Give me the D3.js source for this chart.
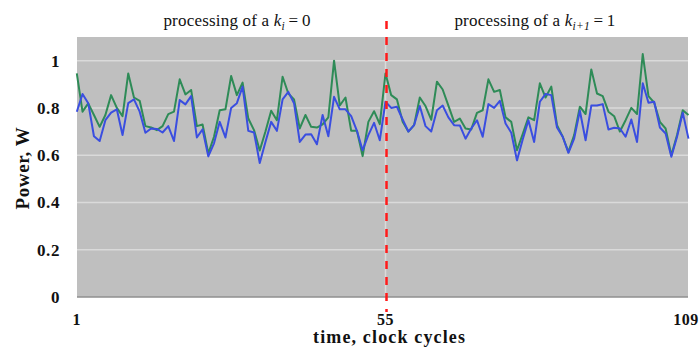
<!DOCTYPE html>
<html><head><meta charset="utf-8">
<script src="https://cdn.jsdelivr.net/npm/d3@7"></script>
<style>body{margin:0;background:#fff}</style>
</head><body><svg id="c" width="700" height="347"></svg>
<script>
const green = [0.946,0.784,0.819,0.77,0.72,0.77,0.854,0.80,0.765,0.946,0.844,0.83,0.723,0.717,0.706,0.723,0.774,0.784,0.921,0.857,0.876,0.723,0.73,0.607,0.678,0.79,0.794,0.935,0.854,0.907,0.755,0.706,0.62,0.70,0.788,0.748,0.932,0.861,0.836,0.713,0.77,0.72,0.717,0.73,0.76,1.0,0.81,0.844,0.703,0.703,0.596,0.741,0.786,0.731,0.946,0.854,0.836,0.741,0.70,0.727,0.844,0.808,0.75,0.911,0.878,0.81,0.741,0.755,0.713,0.709,0.779,0.79,0.921,0.868,0.876,0.76,0.741,0.621,0.689,0.76,0.748,0.904,0.844,0.89,0.727,0.678,0.614,0.685,0.805,0.774,0.963,0.861,0.85,0.784,0.765,0.70,0.748,0.80,0.774,1.028,0.85,0.822,0.741,0.713,0.60,0.685,0.79,0.77];
const blue = [0.784,0.859,0.82,0.68,0.66,0.748,0.78,0.794,0.685,0.82,0.836,0.784,0.695,0.713,0.711,0.696,0.723,0.66,0.833,0.815,0.85,0.675,0.709,0.595,0.65,0.741,0.675,0.80,0.82,0.89,0.703,0.696,0.567,0.656,0.741,0.703,0.836,0.868,0.82,0.656,0.687,0.689,0.646,0.77,0.68,0.847,0.794,0.794,0.765,0.703,0.621,0.685,0.737,0.663,0.826,0.80,0.805,0.751,0.70,0.727,0.808,0.723,0.70,0.79,0.81,0.76,0.727,0.726,0.67,0.713,0.748,0.678,0.816,0.80,0.83,0.734,0.695,0.578,0.666,0.748,0.656,0.826,0.859,0.854,0.717,0.678,0.61,0.67,0.788,0.663,0.81,0.81,0.816,0.709,0.716,0.713,0.678,0.751,0.656,0.904,0.822,0.826,0.717,0.692,0.593,0.678,0.78,0.67];
const xTicks = [1, 55, 109];
const yTicks = [0, 0.2, 0.4, 0.6, 0.8, 1];
const boundary = 55;

const svg = d3.select("#c");
const L = 77, R = 688, T = 37, B = 297;
const x = d3.scaleLinear().domain([1, 109]).range([76.8, 694.2]);
const y = d3.scaleLinear().domain([0, 1.1]).range([B, T]);
const serif = "'Liberation Serif','DejaVu Serif',serif";

svg.append("rect").attr("x", L).attr("y", T).attr("width", R - L).attr("height", B - T).attr("fill", "#bfbfbf");

svg.selectAll(".gy").data(yTicks.filter(d => d > 0)).enter().append("line")
  .attr("x1", L).attr("x2", R).attr("y1", d => y(d)).attr("y2", d => y(d))
  .attr("stroke", "#dadada").attr("stroke-width", 1.5);
svg.append("line").attr("x1", x(boundary)).attr("x2", x(boundary)).attr("y1", T).attr("y2", B)
  .attr("stroke", "#dadada").attr("stroke-width", 1.5);
svg.append("line").attr("x1", L).attr("x2", R).attr("y1", y(0)).attr("y2", y(0))
  .attr("stroke", "#8f8f8f").attr("stroke-width", 1.5);

const line = d3.line().x((d, i) => x(i + 1)).y(d => y(d));
svg.append("path").datum(green).attr("d", line).attr("fill", "none").attr("stroke", "#2e8b57").attr("stroke-width", 2).attr("stroke-linejoin", "round");
svg.append("path").datum(blue).attr("d", line).attr("fill", "none").attr("stroke", "#3a4ee0").attr("stroke-width", 2).attr("stroke-linejoin", "round");

svg.append("line").attr("x1", x(boundary) + 1).attr("x2", x(boundary) + 1).attr("y1", 21).attr("y2", 312)
  .attr("stroke", "#ff1a1a").attr("stroke-width", 2.5).attr("stroke-dasharray", "8,8");

svg.selectAll(".yt").data(yTicks).enter().append("text")
  .attr("x", 60).attr("y", d => y(d) + 6).attr("text-anchor", "end")
  .attr("font-family", serif).attr("font-weight", "bold").attr("font-size", 17).attr("letter-spacing", 0.6).attr("fill", "#111")
  .text(d => d);
svg.selectAll(".xt").data(xTicks).enter().append("text")
  .attr("x", d => Math.min(x(d), 686)).attr("y", 325).attr("text-anchor", "middle")
  .attr("font-family", serif).attr("font-weight", "bold").attr("font-size", 16).attr("letter-spacing", 0.5).attr("fill", "#111")
  .text(d => d);

svg.append("text").attr("x", 313).attr("y", 343)
  .attr("textLength", 152).attr("lengthAdjust", "spacing")
  .attr("font-family", serif).attr("font-weight", "bold").attr("font-size", 18).attr("fill", "#111")
  .text("time, clock cycles");
svg.append("text").attr("transform", "translate(29,168) rotate(-90)").attr("text-anchor", "middle")
  .attr("font-family", serif).attr("font-weight", "bold").attr("font-size", 19).attr("letter-spacing", 0.6).attr("fill", "#111")
  .text("Power, W");

function label(cx, sub, val) {
  const t = svg.append("text").attr("x", cx).attr("y", 26).attr("text-anchor", "middle")
    .attr("font-family", serif).attr("font-size", 17).attr("letter-spacing", 0.2).attr("fill", "#111");
  t.append("tspan").text("processing of a ");
  t.append("tspan").attr("font-style", "italic").text("k");
  t.append("tspan").attr("font-style", "italic").attr("font-size", 11.5).attr("dy", 4).text(sub);
  t.append("tspan").attr("dy", -4).text("\u2009=\u2009" + val);
}
label(237, "i", 0);
label(535, "i+1", 1);
</script></body></html>
